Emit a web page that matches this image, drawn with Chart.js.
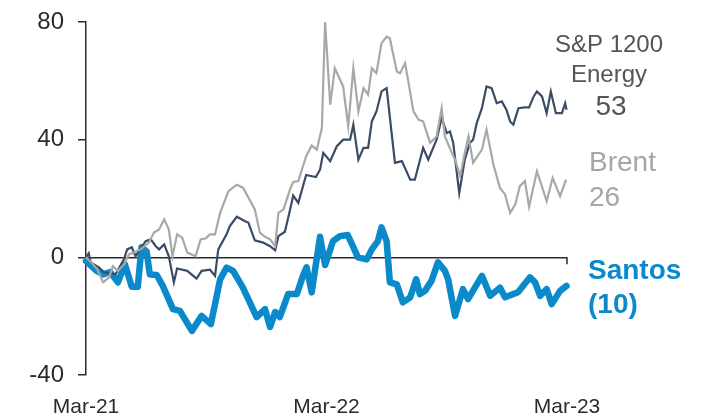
<!DOCTYPE html>
<html lang="en">
<head>
  <meta charset="UTF-8">
  <title>Santos vs S&P 1200 Energy vs Brent</title>
  <script src="https://cdn.jsdelivr.net/npm/chart.js"></script>
  <style>
    html, body { margin: 0; padding: 0; background: #fff; }
    #wrap { width: 707px; height: 413px; }
  </style>
</head>
<body>
  <div id="wrap"><canvas id="chart" width="707" height="413"></canvas></div>

  <script>
    // x in weeks from Mar-21, y = % change
    const xTickWeeks = [0, 52, 104]
    const xTickLabels = ['Mar-21', 'Mar-22', 'Mar-23']

    const santosWeeks = [0, 2.3, 3.7, 5.2, 6.9, 8.4, 9.9, 11.2, 12.0, 13.1, 13.8, 15.3, 16.6, 18.8, 20.3, 22.9, 25.0, 27.0,
      29.0, 30.4, 31.8, 33.9, 36.9, 38.7, 39.8, 40.9, 41.9, 43.7, 45.6, 46.9, 47.7, 48.8, 50.6, 51.7, 53.4, 54.9, 56.6,
      58.8, 60.7, 61.8, 63.1, 63.9, 65.0, 65.7, 67.2, 68.5, 70.1, 71.4, 72.2, 73.3, 74.7, 76.1, 77.6, 78.3, 79.8, 81.5,
      82.6, 85.6, 87.4, 89.5, 90.6, 93.4, 96.0, 97.1, 98.2, 99.6, 100.7, 102.5, 103.9]
    const santosValues = [-1.2, -4.6, -5.8, -5, -8.5, -2.4, -10, -10, 3.4, 2, -5.8, -6, -9.7, -17.6, -18.2, -25, -19.9, -22.7,
      -7.5, -3.5, -4.6, -10.2, -20.3, -17.6, -23.7, -18.6, -20.3, -12.5, -12.5, -6.3, -3.4, -11.9, 7, -2.6, 5.5, 7.2, 7.6,
      0, -0.7, 2.7, 5.5, 10.2, 5.5, -8.5, -9.2, -15.3, -13.6, -7.5, -12.5, -11.4, -8, -1.7, -4.6, -7.5, -19.9, -10.8,
      -14.2, -6.3, -13.1, -10.3, -13.6, -11.9, -6.8, -8.5, -13.1, -10.8, -15.9, -11.4, -9.7]

    const energyWeeks = [0, 0.6, 1.0, 2.8, 3.9, 6.4, 8.2, 8.9, 9.9, 10.7, 12.9, 14.0, 15.1, 15.8, 16.9, 17.9, 19.0, 19.7,
      21.9, 23.9, 25.0, 26.8, 27.9, 28.6, 30.4, 31.1, 32.6, 34.4, 35.1, 36.5, 38.3, 39.8, 40.9, 41.6, 43.0, 44.1, 44.8,
      45.9, 47.6, 49.7, 50.6, 51.3, 52.8, 54.2, 55.6, 57.1, 57.8, 58.9, 60.0, 61.0, 61.8, 62.8, 63.9, 65.0, 66.8, 68.3,
      70.1, 71.1, 72.9, 74.0, 75.8, 76.9, 78.0, 78.7, 79.4, 80.7, 81.9, 83.0, 83.7, 84.5, 85.6, 86.6, 87.7, 88.8, 89.9,
      90.9, 91.7, 92.4, 93.5, 94.9, 95.8, 96.8, 97.5, 98.6, 99.6, 100.5, 101.6, 102.9, 103.6, 103.9]
    const energyValues = [0, 1.4, -1.7, -3.4, -5.1, -5.8, -0.7, 2.7, 3.4, 0.4, 5.5, 6.1, 3.8, 2.7, 4.4, 0.4, -8.5, -3.8,
      -4.6, -7.2, -4.6, -4.2, -6.3, 2.7, 7.8, 10.6, 13.8, 12.3, 11.8, 5.8, 5, 3.8, 2.4, 7.2, 8.7, 16, 21,
      18.5, 28, 27.3, 29.8, 35.5, 32.7, 37.7, 40, 40, 45.1, 33.2, 37.2, 37.2, 46.2, 49.6, 56.4, 57.5, 32.1, 32.7,
      26.4, 26.4, 37.2, 33.2, 40, 47.4, 42.3, 42.8, 38.9, 21.9, 33.2, 38.9, 40, 45.7, 50.7, 58.1, 57.5, 52.4, 53,
      50.2, 46.2, 45.1, 50.7, 51, 51, 54.7, 56.4, 54.7, 49, 56.4, 49, 49, 52.4, 50.2]

    const brentWeeks = [0, 1.3, 2.4, 3.7, 5.0, 5.8, 6.9, 8.2, 9.3, 10.4, 11.8, 13.6, 14.7, 15.8, 16.9, 17.9, 18.7, 19.7,
      20.8, 21.9, 23.7, 24.8, 25.9, 26.8, 27.9, 29.0, 30.8, 32.6, 34.0, 36.5, 37.6, 38.7, 39.8, 40.9, 41.6, 42.7, 44.1,
      44.8, 45.9, 47.6, 48.8, 49.9, 51.0, 51.7, 52.8, 53.8, 55.6, 56.7, 57.8, 58.9, 60.0, 61.0, 61.8, 62.8, 63.9, 65.0,
      65.7, 67.2, 67.9, 69.0, 70.8, 71.9, 72.9, 74.4, 75.8, 76.9, 77.6, 79.1, 79.8, 80.9, 81.9, 82.7, 83.7, 85.6, 86.6,
      88.1, 89.5, 90.6, 91.7, 92.8, 93.8, 94.9, 95.8, 97.5, 99.6, 100.9, 102.5, 103.8]
    const brentValues = [0, -2, -4, -8.5, -6.8, -3, -4.6, -2.4, 1, 1.7, 2.7, 5, 8.4, 9.5, 12.9, 9.5, 0.4, 7.8,
      6.7, 1.6, 0.4, 6.1, 6.5, 7.8, 7.8, 15.1, 22.5, 24.7, 23.6, 16.3, 8.4, 7, 6.1, 3.8, 15.1, 16.3, 23,
      25.6, 25.9, 34.4, 38, 36.6, 44, 80, 51.9, 64.3, 58.1, 44.5, 64.3, 49.6, 57.5, 55.3, 64.3, 62.6, 72.8, 75,
      74.5, 63.2, 62.6, 66, 49.6, 46.8, 46.2, 38.9, 41.1, 50.7, 41.1, 35.5, 33.2, 27.6, 35.5, 41.1, 32.1, 36.6, 43.4,
      31.5, 23.6, 21.4, 15.1, 17.9, 24.2, 25.9, 17.2, 29.3, 19.1, 27, 20.8, 26.4]

    const toPoints = (xs, ys) => xs.map((x, i) => ({ x: x, y: ys[i] }))

    const FONT = '"Liberation Sans", Arial, Helvetica, sans-serif'
    const AXIS = '#2b2b2b'

    // zero-line end tick + right-hand series labels
    const extras = {
      id: 'extras',
      afterDraw(chart) {
        const { ctx, scales } = chart
        const xs = scales.x, ys = scales.y
        const xEnd = xs.getPixelForValue(104), y0 = ys.getPixelForValue(0)
        ctx.save()
        ctx.strokeStyle = AXIS
        ctx.lineWidth = 1.5
        ctx.beginPath()
        ctx.moveTo(xEnd, y0)
        ctx.lineTo(xEnd, y0 + 7)
        ctx.stroke()

        const r = chart.chartArea.right
        ctx.textBaseline = 'middle'
        ctx.textAlign = 'center'
        ctx.fillStyle = '#555'
        ctx.font = '24px ' + FONT
        ctx.fillText('S&P 1200', r + 42, 45)
        ctx.fillText('Energy', r + 42, 75)
        ctx.font = '28px ' + FONT
        ctx.fillText('53', r + 44, 107)

        ctx.textAlign = 'left'
        ctx.fillStyle = '#a6a6a6'
        ctx.fillText('Brent', r + 22, 163)
        ctx.fillText('26', r + 22, 198)

        ctx.fillStyle = '#0a8acb'
        ctx.font = 'bold 28px ' + FONT
        ctx.fillText('Santos', r + 21, 271)
        ctx.fillText('(10)', r + 21, 305)
        ctx.restore()
      }
    }

    new Chart(document.getElementById('chart'), {
      type: 'line',
      data: {
        datasets: [{
          label: 'Brent',
          data: toPoints(brentWeeks, brentValues),
          borderColor: '#a8a8a8',
          borderWidth: 2.2,
          pointRadius: 0,
          tension: 0
        }, {
          label: 'S&P 1200 Energy',
          data: toPoints(energyWeeks, energyValues),
          borderColor: '#3a4c66',
          borderWidth: 2.2,
          pointRadius: 0,
          tension: 0
        }, {
          label: 'Santos',
          data: toPoints(santosWeeks, santosValues),
          borderColor: '#0a8acb',
          borderWidth: 6.5,
          pointRadius: 0,
          tension: 0,
          borderJoinStyle: 'round',
          borderCapStyle: 'round'
        }]
      },
      options: {
        responsive: false,
        animation: false,
        clip: false,
        layout: { padding: { top: 0, right: 140, bottom: 0, left: 0 } },
        plugins: {
          legend: { display: false },
          tooltip: { enabled: false }
        },
        scales: {
          x: {
            type: 'linear',
            min: 0,
            max: 104,
            afterBuildTicks: s => { s.ticks = xTickWeeks.map(v => ({ value: v })) },
            afterFit: s => { s.height = 38 },
            grid: { display: false },
            border: { display: false },
            ticks: {
              padding: 12,
              maxRotation: 0,
              autoSkip: false,
              color: AXIS,
              font: { family: FONT, size: 21 },
              callback: v => xTickLabels[xTickWeeks.indexOf(v)]
            }
          },
          y: {
            min: -40,
            max: 80,
            afterFit: s => { s.width = 86; s.paddingTop = 22 },
            border: { display: true, color: AXIS, width: 1.5 },
            grid: {
              color: c => (c.tick && c.tick.value === 0) ? AXIS : 'transparent',
              lineWidth: 1.5,
              tickColor: AXIS,
              tickLength: 8
            },
            ticks: {
              stepSize: 40,
              padding: 14,
              color: AXIS,
              font: { family: FONT, size: 24 }
            }
          }
        }
      },
      plugins: [extras]
    })
  </script>
</body>
</html>
